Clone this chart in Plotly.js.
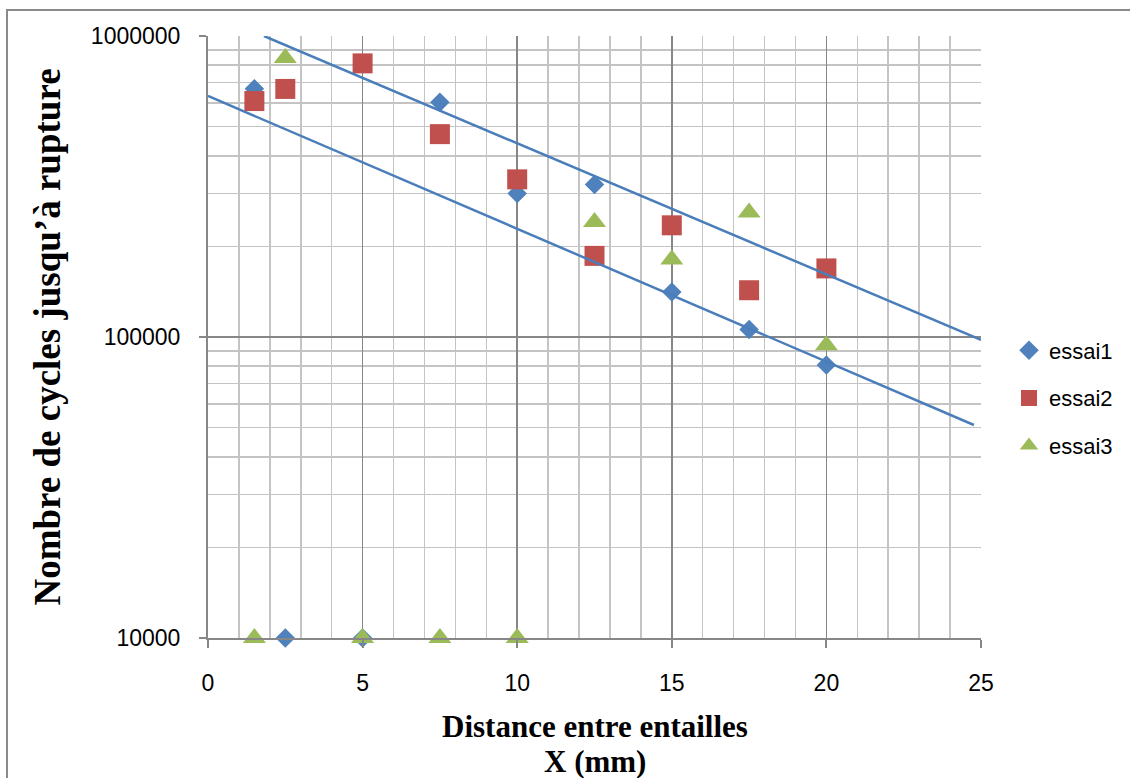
<!DOCTYPE html>
<html>
<head>
<meta charset="utf-8">
<script src="https://cdn.plot.ly/plotly-3.0.1.min.js"></script>
<style>
  body { margin: 0; overflow: hidden; background: #fff; }
  #chart { width: 1130px; height: 778px; }
  #frame { position: absolute; left: 6px; top: 9px; width: 2000px; height: 2000px;
           border: 2.5px solid #8a8a8a; pointer-events: none; }
</style>
</head>
<body>
<div id="chart"></div>
<div id="frame"></div>
<script>
// ---- data ----
const distances = [1.5, 2.5, 5, 7.5, 10, 12.5, 15, 17.5, 20];
const essai1 = [668000, 10000, 10000, 602000, 300000, 321000, 141000, 106000, 80700];
const essai2 = [608000, 667000, 811000, 472000, 334000, 186000, 235000, 143000, 169000];
const essai3 = [10000, 845000, 10000, 10000, 10000, 241000, 181000, 259000, 93800];
const seriesNames = ['essai1', 'essai2', 'essai3'];

// trend lines (exponential, straight on the log axis) – endpoints
const trendLowX = [0, 24.77];
const trendLowY = [632000, 51000];
const trendHighX = [1.81, 25];
const trendHighY = [1000000, 97800];

const yTickVals = [10000, 100000, 1000000];
const yTickText = ['10000', '100000', '1000000'];

const xTitleLines = ['<b>Distance entre entailles</b>', '<b>X (mm)</b>'];
const yTitle = '<b>Nombre de cycles jusqu’à rupture</b>';

// ---- styling ----
const blue = '#4F81BD', red = '#C0504D', green = '#9BBB59';
const majorGrid = '#878787', minorGrid = '#c4c4c4';
const tickFont = { family: 'Liberation Sans, Arial, sans-serif', size: 23, color: '#000' };
const titleFont = { family: 'Liberation Serif, Times New Roman, serif', color: '#000' };

const traces = [
  { x: distances, y: essai1, name: seriesNames[0], type: 'scatter', mode: 'markers',
    marker: { symbol: 'diamond', size: 15, color: blue }, cliponaxis: false, legendgroup: 'a' },
  { x: distances, y: essai2, name: seriesNames[1], type: 'scatter', mode: 'markers',
    marker: { symbol: 'square', size: 20, color: red }, cliponaxis: false, legendgroup: 'b' },
  { x: distances, y: essai3, name: seriesNames[2], type: 'scatter', mode: 'markers',
    marker: { symbol: 'triangle-up', size: 20, color: green }, cliponaxis: false, legendgroup: 'c' },
  { x: trendLowX, y: trendLowY, type: 'scatter', mode: 'lines', showlegend: false,
    line: { color: '#4A7EBB', width: 2.5 }, hoverinfo: 'skip' },
  { x: trendHighX, y: trendHighY, type: 'scatter', mode: 'lines', showlegend: false,
    line: { color: '#4A7EBB', width: 2.5 }, hoverinfo: 'skip' }
];

const W = 1130, H = 778;
const plotLeft = 208, plotRight = 981, plotTop = 36, plotBottom = 638;
const plotH = plotBottom - plotTop;

const layout = {
  width: W, height: H,
  margin: { l: plotLeft, r: W - plotRight, t: plotTop, b: H - plotBottom, autoexpand: false },
  paper_bgcolor: '#fff', plot_bgcolor: '#fff',
  showlegend: true,
  legend: {
    xref: 'container', yref: 'container',
    x: 1009 / W, xanchor: 'left', y: (H - 398) / H, yanchor: 'middle',
    font: { family: 'Liberation Sans, Arial, sans-serif', size: 22, color: '#000' },
    tracegroupgap: 16, bgcolor: 'rgba(0,0,0,0)', borderwidth: 0
  },
  xaxis: {
    range: [0, 25], tick0: 0, dtick: 5, automargin: false,
    showgrid: true, gridcolor: majorGrid, gridwidth: 1.5,
    showline: true, linecolor: majorGrid, linewidth: 2,
    ticks: 'outside', ticklen: 8, tickwidth: 2, tickcolor: majorGrid,
    zeroline: false, tickfont: tickFont, ticklabelstandoff: 15,
    minor: { dtick: 1, showgrid: true, gridcolor: minorGrid, gridwidth: 1.5, ticks: '' }
  },
  yaxis: {
    type: 'log', range: [4, 6], automargin: false,
    tickvals: yTickVals, ticktext: yTickText,
    showgrid: true, gridcolor: majorGrid, gridwidth: 1.5,
    showline: true, linecolor: majorGrid, linewidth: 2,
    ticks: 'outside', ticklen: 7, tickwidth: 2, tickcolor: majorGrid,
    zeroline: false, tickfont: tickFont, ticklabelstandoff: 14,
    minor: { dtick: 'D1', showgrid: true, gridcolor: minorGrid, gridwidth: 1.5, ticks: '' },
    title: { text: yTitle, font: Object.assign({ size: 37 }, titleFont), standoff: 19 }
  },
  annotations: [
    { text: xTitleLines[0], xref: 'paper', yref: 'paper', x: 0.5, y: (plotBottom - 726) / plotH,
      xanchor: 'center', yanchor: 'middle', showarrow: false,
      font: Object.assign({ size: 31 }, titleFont) },
    { text: xTitleLines[1], xref: 'paper', yref: 'paper', x: 0.5, y: (plotBottom - 761) / plotH,
      xanchor: 'center', yanchor: 'middle', showarrow: false,
      font: Object.assign({ size: 31 }, titleFont) }
  ]
};

Plotly.newPlot('chart', traces, layout, { displayModeBar: false, staticPlot: true });
</script>
</body>
</html>
